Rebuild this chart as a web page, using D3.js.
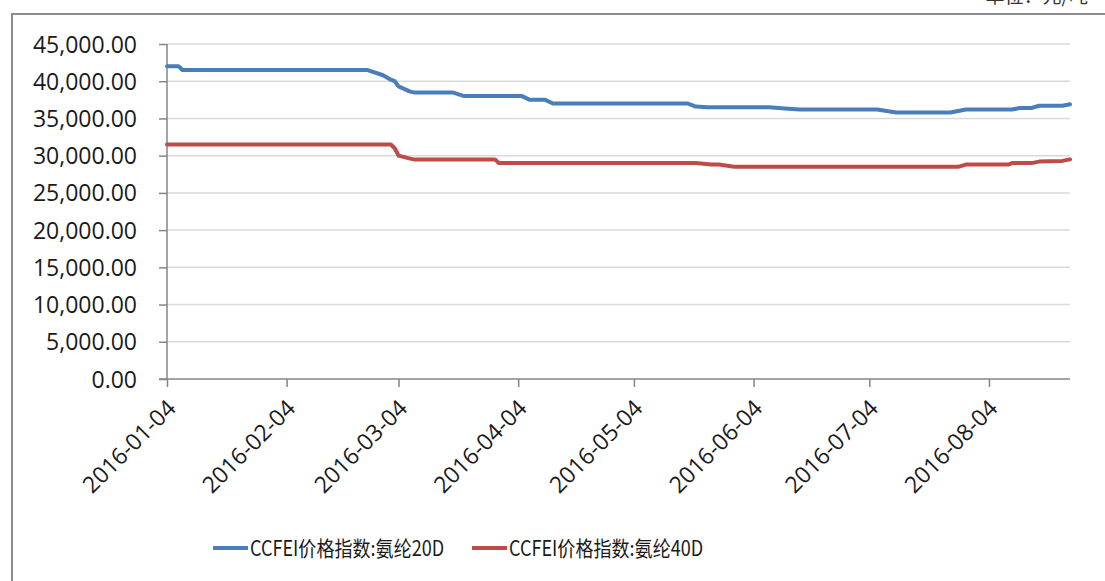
<!DOCTYPE html>
<html>
<head>
<meta charset="utf-8">
<script src="https://cdn.jsdelivr.net/npm/d3@7"></script>
<style>
  html, body { margin: 0; padding: 0; background: #fff; }
  svg { display: block; }
  .axis text { font-family: "Open Sans", "Liberation Sans", sans-serif; fill: #1a1a1a; }
  .legend text { font-family: "Noto Sans CJK SC", "Open Sans", sans-serif; fill: #1a1a1a; }
</style>
</head>
<body>
<div id="chart"></div>
<script>
// ─── DATA ───
const seriesNames = ["CCFEI价格指数:氨纶20D", "CCFEI价格指数:氨纶40D"];
const seriesColors = ["#4a7ebb", "#be4b48"];

// 氨纶20D: [date, price]
const spandex20D = [
    ["2016-01-04", 42000], ["2016-01-07", 42000], ["2016-01-08", 41500],
    ["2016-02-25", 41500], ["2016-02-29", 40800], ["2016-03-01", 40500],
    ["2016-03-02", 40200], ["2016-03-03", 40000], ["2016-03-04", 39300],
    ["2016-03-07", 38600], ["2016-03-08", 38500], ["2016-03-18", 38500],
    ["2016-03-21", 38000], ["2016-04-05", 38000], ["2016-04-07", 37500],
    ["2016-04-11", 37500], ["2016-04-13", 37000], ["2016-05-18", 37000],
    ["2016-05-20", 36600], ["2016-05-23", 36500], ["2016-06-08", 36500],
    ["2016-06-13", 36300], ["2016-06-16", 36200], ["2016-07-06", 36200],
    ["2016-07-11", 35800], ["2016-07-25", 35800], ["2016-07-28", 36100],
    ["2016-07-29", 36200], ["2016-08-10", 36200], ["2016-08-12", 36400],
    ["2016-08-15", 36400], ["2016-08-17", 36700], ["2016-08-23", 36700],
    ["2016-08-25", 36900]
];

// 氨纶40D: [date, price]
const spandex40D = [
    ["2016-01-04", 31500], ["2016-03-02", 31500], ["2016-03-03", 31000],
    ["2016-03-04", 30000], ["2016-03-07", 29600], ["2016-03-08", 29500],
    ["2016-03-29", 29500], ["2016-03-30", 29000], ["2016-05-20", 29000],
    ["2016-05-24", 28800], ["2016-05-26", 28800], ["2016-05-30", 28500],
    ["2016-07-27", 28500], ["2016-07-29", 28800], ["2016-08-09", 28800],
    ["2016-08-10", 29000], ["2016-08-15", 29000], ["2016-08-17", 29200],
    ["2016-08-23", 29300], ["2016-08-25", 29500]
];

const xTickLabels = ["2016-01-04", "2016-02-04", "2016-03-04", "2016-04-04",
                     "2016-05-04", "2016-06-04", "2016-07-04", "2016-08-04"];
const yTicks = [0, 5000, 10000, 15000, 20000, 25000, 30000, 35000, 40000, 45000];
const xDomain = ["2016-01-04", "2016-08-25"];
const unitLabel = "单位：元/吨";

// ─── CHART ───
const width = 1105, height = 581;
const margin = { top: 44, right: 35, bottom: 202, left: 167 };
const parse = d3.timeParse("%Y-%m-%d");

const svg = d3.select("#chart").append("svg")
    .attr("width", width)
    .attr("height", height);

// outer frame (cut off at right/bottom like the reference)
svg.append("rect")
    .attr("x", 12).attr("y", 14)
    .attr("width", width + 20).attr("height", height + 20)
    .attr("fill", "none")
    .attr("stroke", "#8c8c8c")
    .attr("stroke-width", 2);

// unit label, mostly scrolled out above the frame in the reference
svg.append("text")
    .attr("x", 1088).attr("y", 3)
    .attr("text-anchor", "end")
    .attr("font-family", "Noto Sans CJK SC, sans-serif")
    .attr("font-size", "19px")
    .attr("fill", "#333")
    .text(unitLabel);

const x = d3.scaleTime()
    .domain(xDomain.map(parse))
    .range([margin.left, width - margin.right]);

const y = d3.scaleLinear()
    .domain([0, 45000])
    .range([height - margin.bottom, margin.top]);

// gridlines
svg.append("g")
    .selectAll("line")
    .data(yTicks.filter(d => d > 0))
    .join("line")
    .attr("x1", x.range()[0]).attr("x2", x.range()[1])
    .attr("y1", d => y(d)).attr("y2", d => y(d))
    .attr("stroke", "#d9d9d9")
    .attr("stroke-width", 1.5);

// y axis
svg.append("g")
    .attr("class", "axis")
    .attr("transform", `translate(${margin.left},0)`)
    .call(d3.axisLeft(y).tickValues(yTicks).tickSize(8).tickPadding(22)
        .tickFormat(d3.format(",.2f")))
    .call(g => g.selectAll("path, line").attr("stroke", "#868686").attr("stroke-width", 1.5))
    .call(g => g.select(".domain").attr("d", `M-8,${y(0)}H0V${y(45000)}`))
    .call(g => g.selectAll("text").attr("font-size", "23px").attr("dy", "0.35em"));

// x axis
svg.append("g")
    .attr("class", "axis")
    .attr("transform", `translate(0,${y(0)})`)
    .call(d3.axisBottom(x).tickValues(xTickLabels.map(parse)).tickSize(8)
        .tickFormat(d3.timeFormat("%Y-%m-%d")))
    .call(g => g.selectAll("path, line").attr("stroke", "#868686").attr("stroke-width", 1.5))
    .call(g => g.select(".domain").attr("d", `M${x.range()[0]},0H${x.range()[1]}`))
    .call(g => g.selectAll("text")
        .attr("font-size", "23px")
        .attr("text-anchor", "end")
        .attr("x", 0).attr("y", 0).attr("dy", "0.35em")
        .attr("transform", "translate(4,25) rotate(-45)"));

// lines
const line = d3.line()
    .x(d => x(parse(d[0])))
    .y(d => y(d[1]));

[spandex20D, spandex40D].forEach((data, i) => {
    svg.append("path")
        .datum(data)
        .attr("fill", "none")
        .attr("stroke", seriesColors[i])
        .attr("stroke-width", 4)
        .attr("stroke-linejoin", "round")
        .attr("stroke-linecap", "round")
        .attr("d", line);
});

// legend (text squeezed a little: the reference font is tall but narrow)
const legendX = [213, 472];
const legend = svg.append("g").attr("class", "legend");
seriesNames.forEach((name, i) => {
    const g = legend.append("g").attr("transform", `translate(${legendX[i]},548)`);
    g.append("line")
        .attr("x1", 0).attr("x2", 35)
        .attr("stroke", seriesColors[i])
        .attr("stroke-width", 4);
    g.append("text")
        .attr("transform", "translate(37,0) scale(0.86,1)")
        .attr("dy", "0.36em")
        .attr("font-size", "21px")
        .text(name);
});
</script>
</body>
</html>
